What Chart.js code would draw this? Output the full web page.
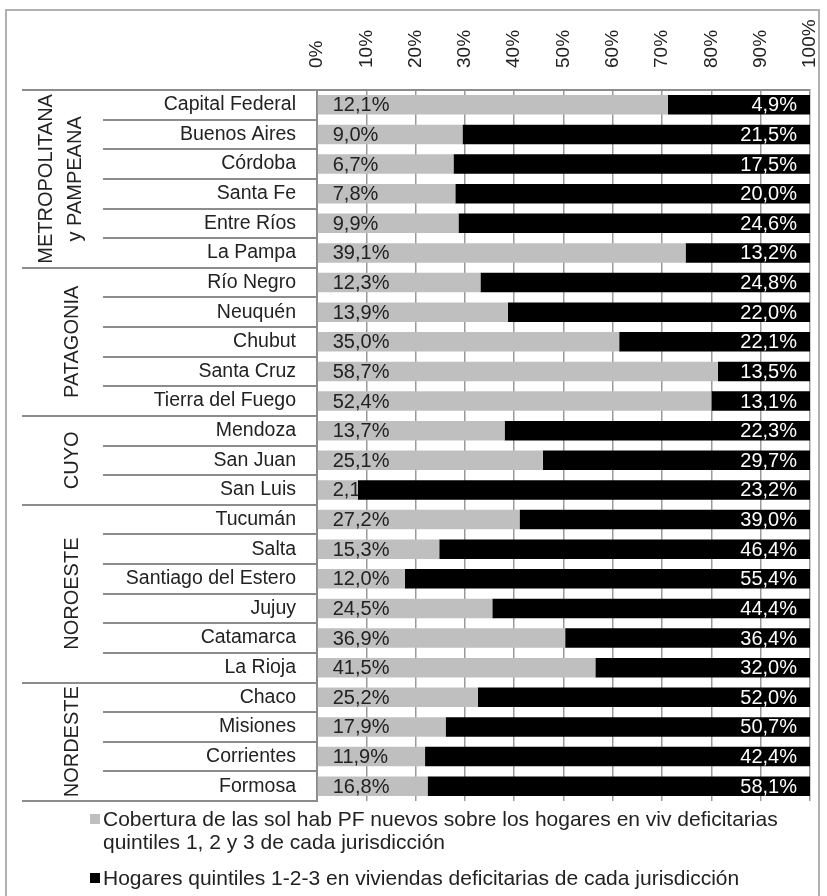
<!DOCTYPE html>
<html>
<head>
<meta charset="utf-8">
<script src="https://cdn.jsdelivr.net/npm/chart.js@4.4.1/dist/chart.umd.min.js"></script>
<style>
  body { margin: 0; background: #fff; }
  #wrap { position: relative; width: 827px; height: 896px; overflow: hidden; }
  #frame { position: absolute; left: 5px; top: 9px; width: 815px; height: 900px; border: 2px solid #b0b0b0; box-sizing: border-box; }
  #chart { position: absolute; left: 0; top: 0; }
  .leg { position: absolute; font-family: "Liberation Sans Narrow", "Arial Narrow", "Liberation Sans", sans-serif; font-stretch: condensed; font-size: 21px; color: #222; line-height: 23px; white-space: nowrap; }
  .sw { position: absolute; width: 10px; height: 10px; }
</style>
</head>
<body>
<div id="wrap">
  <div id="frame"></div>
  <canvas id="chart" width="827" height="896"></canvas>
  <div class="sw" style="left:90px; top:814px; background:#bfbfbf;"></div>
  <div class="leg" style="left:103px; top:807px;">Cobertura de las sol hab PF nuevos sobre los hogares en viv deficitarias<br>quintiles 1, 2 y 3 de cada jurisdicción</div>
  <div class="sw" style="left:90px; top:873px; background:#000;"></div>
  <div class="leg" style="left:103px; top:866px;">Hogares quintiles 1-2-3 en viviendas deficitarias de cada jurisdicción</div>
</div>
<script>
// --- Data ---
const provinces = [
    "Capital Federal", "Buenos Aires", "Córdoba", "Santa Fe", "Entre Ríos", "La Pampa",
    "Río Negro", "Neuquén", "Chubut", "Santa Cruz", "Tierra del Fuego",
    "Mendoza", "San Juan", "San Luis",
    "Tucumán", "Salta", "Santiago del Estero", "Jujuy", "Catamarca", "La Rioja",
    "Chaco", "Misiones", "Corrientes", "Formosa"
];
const cobertura = [12.1, 9.0, 6.7, 7.8, 9.9, 39.1, 12.3, 13.9, 35.0, 58.7, 52.4,
    13.7, 25.1, 2.1, 27.2, 15.3, 12.0, 24.5, 36.9, 41.5, 25.2, 17.9, 11.9, 16.8];
const hogares = [4.9, 21.5, 17.5, 20.0, 24.6, 13.2, 24.8, 22.0, 22.1, 13.5, 13.1,
    22.3, 29.7, 23.2, 39.0, 46.4, 55.4, 44.4, 36.4, 32.0, 52.0, 50.7, 42.4, 58.1];
const regionNames = [["METROPOLITANA", "y PAMPEANA"], ["PATAGONIA"], ["CUYO"], ["NOROESTE"], ["NORDESTE"]];
const regionSizes = [6, 5, 3, 6, 4];
const xTicks = [0, 10, 20, 30, 40, 50, 60, 70, 80, 90, 100];

const FONT = '"Liberation Sans", Arial, sans-serif';

// 100% stacked shares built from the two series
const shareCob = cobertura.map((c, i) => c / (c + hogares[i]) * 100);
const shareHog = hogares.map((h, i) => h / (cobertura[i] + h) * 100);

const fmt = v => v.toFixed(1).replace('.', ',') + '%';

// value labels inside the bars
const valueLabels = {
    id: 'valueLabels',
    afterDatasetsDraw(chart) {
        const ctx = chart.ctx;
        ctx.save();
        ctx.font = '20px ' + FONT;
        ctx.textBaseline = 'middle';
        chart.getDatasetMeta(0).data.forEach((bar, i) => {
            ctx.save();
            ctx.beginPath();
            ctx.rect(bar.base, bar.y - bar.height / 2, bar.x - bar.base, bar.height);
            ctx.clip();
            ctx.fillStyle = '#222';
            ctx.textAlign = 'left';
            ctx.fillText(fmt(cobertura[i]), bar.base + 15, bar.y + 1);
            ctx.restore();
        });
        chart.getDatasetMeta(1).data.forEach((bar, i) => {
            ctx.fillStyle = '#fff';
            ctx.textAlign = 'right';
            ctx.fillText(fmt(hogares[i]), bar.x - 13, bar.y + 1);
        });
        ctx.restore();
    }
};

// rotated percent labels above the plot, centred on the gridlines
const topTicks = {
    id: 'topTicks',
    afterDraw(chart) {
        const ctx = chart.ctx;
        const x = chart.scales.x;
        ctx.save();
        ctx.fillStyle = '#222';
        ctx.font = '19px ' + FONT;
        ctx.textAlign = 'left';
        ctx.textBaseline = 'middle';
        xTicks.forEach(v => {
            ctx.save();
            ctx.translate(x.getPixelForValue(v), chart.chartArea.top - 22);
            ctx.rotate(-Math.PI / 2);
            ctx.fillText(v + '%', 0, 0);
            ctx.restore();
        });
        ctx.restore();
    }
};

// row separators and rotated region names on the left
const regions = {
    id: 'regions',
    afterDraw(chart) {
        const { ctx, chartArea } = chart;
        const y = chart.scales.y;
        const half = (y.getPixelForValue(1) - y.getPixelForValue(0)) / 2;
        const starts = [];
        let acc = 0;
        regionSizes.forEach(n => { starts.push(acc); acc += n; });

        ctx.save();
        ctx.strokeStyle = '#8c8c8c';
        ctx.lineWidth = 2;
        for (let i = 0; i <= provinces.length; i++) {
            const yy = i === provinces.length ? chartArea.bottom : y.getPixelForValue(i) - half;
            const x0 = (starts.includes(i) || i === provinces.length) ? 22 : 103;
            ctx.beginPath();
            ctx.moveTo(x0, Math.round(yy));
            ctx.lineTo(chartArea.left, Math.round(yy));
            ctx.stroke();
        }

        ctx.fillStyle = '#222';
        ctx.font = '20px ' + FONT;
        ctx.textAlign = 'center';
        ctx.textBaseline = 'middle';
        regionNames.forEach((lines, g) => {
            const first = starts[g];
            const last = first + regionSizes[g] - 1;
            const cy = (y.getPixelForValue(first) + y.getPixelForValue(last)) / 2;
            const xs = lines.length === 2 ? [46, 75] : [72];
            lines.forEach((txt, k) => {
                ctx.save();
                ctx.translate(xs[k], cy);
                ctx.rotate(-Math.PI / 2);
                ctx.fillText(txt, 0, 0);
                ctx.restore();
            });
        });
        ctx.restore();
    }
};

new Chart(document.getElementById('chart'), {
    type: 'bar',
    data: {
        labels: provinces,
        datasets: [
            { label: 'Cobertura', data: shareCob, backgroundColor: '#bfbfbf', barPercentage: 0.66, categoryPercentage: 1 },
            { label: 'Hogares', data: shareHog, backgroundColor: '#000000', barPercentage: 0.66, categoryPercentage: 1 }
        ]
    },
    options: {
        indexAxis: 'y',
        responsive: false,
        animation: false,
        layout: { padding: { top: 0, left: 0, right: 17, bottom: 95 } },
        plugins: { legend: { display: false }, tooltip: { enabled: false } },
        scales: {
            x: {
                type: 'linear',
                position: 'top',
                stacked: true,
                min: 0,
                max: 100,
                afterBuildTicks: scale => { scale.ticks = xTicks.map(v => ({ value: v })); },
                afterFit: scale => { scale.height = 90; },
                ticks: { display: false },
                grid: { color: '#9a9a9a', lineWidth: 1.5, drawTicks: false },
                border: { display: true, color: '#8c8c8c', width: 2 }
            },
            y: {
                stacked: true,
                afterFit: scale => { scale.width = 317; },
                ticks: {
                    color: '#222',
                    padding: 21,
                    font: { family: FONT, size: 19.5 }
                },
                grid: { display: false, drawTicks: false },
                border: { display: true, color: '#8c8c8c', width: 2 }
            }
        }
    },
    plugins: [valueLabels, topTicks, regions]
});
</script>
</body>
</html>
